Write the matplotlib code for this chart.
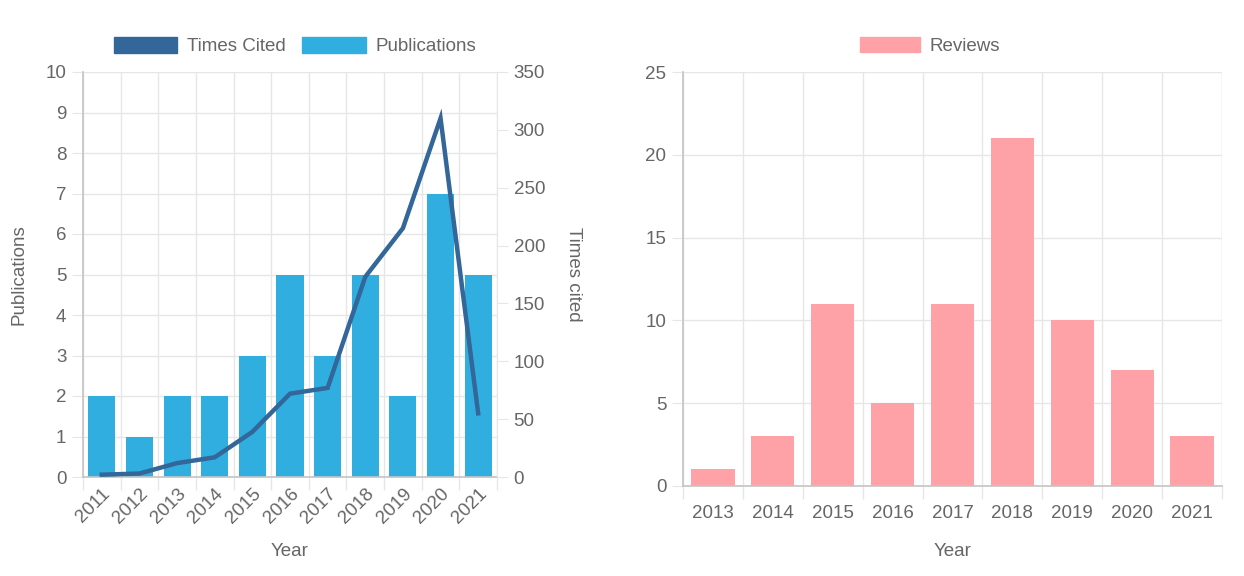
import matplotlib
matplotlib.use("Agg")
import matplotlib.pyplot as plt
from matplotlib.patches import Patch
import numpy as np

plt.rcParams['font.family'] = ['Liberation Sans', 'DejaVu Sans']

# ---- data ----
years_left = ['2011', '2012', '2013', '2014', '2015', '2016', '2017', '2018', '2019', '2020', '2021']
publications = [2, 1, 2, 2, 3, 5, 3, 5, 2, 7, 5]
times_cited = [2, 3, 12, 17, 39, 72, 77, 173, 215, 310, 55]

years_right = ['2013', '2014', '2015', '2016', '2017', '2018', '2019', '2020', '2021']
reviews = [1, 3, 11, 5, 11, 21, 10, 7, 3]

# ---- style ----
TEXT = '#666666'
GRID = '#e6e6e6'
AXIS = '#c4c4c4'
BLUE = '#30aee0'
LINE = '#336699'
PINK = '#ffa2a8'
FS = 13.5

W, H = 1244, 576
fig = plt.figure(figsize=(W / 100, H / 100), dpi=100)


def frac(l, r, t, b):
    return [l / W, 1 - b / H, (r - l) / W, (b - t) / H]


def style_axis(ax, n):
    ax.set_xlim(-0.5, n - 0.5)
    ax.set_xticks(np.arange(n))
    ax.set_xticks(np.arange(n + 1) - 0.5, minor=True)
    ax.tick_params(axis='x', which='major', length=0, colors=TEXT, labelsize=FS, pad=6)
    ax.tick_params(axis='x', which='minor', length=9, color=GRID, width=1)
    ax.tick_params(axis='y', length=8, color=GRID, colors=TEXT, labelsize=FS, pad=4)
    ax.grid(True, which='minor', axis='x', color=GRID, lw=1)
    ax.grid(True, which='major', axis='y', color=GRID, lw=1)
    ax.set_axisbelow(True)
    for s in ['top', 'right']:
        ax.spines[s].set_visible(False)
    for s in ['left', 'bottom']:
        ax.spines[s].set_color(AXIS)
        ax.spines[s].set_linewidth(1.2)


# ---- left chart ----
ax = fig.add_axes(frac(83, 497, 72, 477))
x = np.arange(len(years_left))
ax.bar(x, publications, width=0.72, color=BLUE, zorder=2)
style_axis(ax, len(years_left))
ax.set_ylim(0, 10)
ax.set_yticks(range(0, 11))
ax.set_xticklabels(years_left, rotation=45, ha='right', rotation_mode='anchor')
ax.set_ylabel('Publications', color=TEXT, fontsize=FS)
ax.yaxis.set_label_coords(-0.133, 0.5)
ax.set_xlabel('Year', color=TEXT, fontsize=FS)
ax.xaxis.set_label_coords(0.5, -0.163)

ax2 = ax.twinx()
ax2.plot(x, times_cited, color=LINE, lw=3.2, solid_joinstyle='miter', zorder=3)
ax2.set_ylim(0, 350)
ax2.set_yticks(range(0, 351, 50))
ax2.tick_params(axis='y', length=8, color=GRID, colors=TEXT, labelsize=FS, pad=4)
for s in ['top', 'left', 'bottom']:
    ax2.spines[s].set_visible(False)
ax2.spines['right'].set_color(GRID)
ax2.set_ylabel('Times cited', color=TEXT, fontsize=FS, rotation=270)
ax2.yaxis.set_label_coords(1.205, 0.5)

handles = [Patch(facecolor=LINE, edgecolor=LINE), Patch(facecolor=BLUE, edgecolor=BLUE)]
fig.legend(handles, ['Times Cited', 'Publications'], loc='center',
           bbox_to_anchor=(295 / W, 1 - 46 / H), ncol=2, frameon=False,
           fontsize=FS, labelcolor=TEXT, handlelength=3.4, handleheight=1.0,
           handletextpad=0.5, columnspacing=0.9)

# ---- right chart ----
axr = fig.add_axes(frac(683, 1222, 72, 486))
xr = np.arange(len(years_right))
axr.bar(xr, reviews, width=0.72, color=PINK, zorder=2)
style_axis(axr, len(years_right))
axr.set_ylim(0, 25)
axr.set_yticks(range(0, 26, 5))
axr.set_xticklabels(years_right)
axr.tick_params(axis='x', which='major', pad=14)
axr.set_xlabel('Year', color=TEXT, fontsize=FS)
axr.xaxis.set_label_coords(0.5, -0.138)
axr.axvline(len(years_right) - 0.5, color=GRID, lw=1, zorder=0)

fig.legend([Patch(facecolor=PINK, edgecolor=PINK)], ['Reviews'], loc='center',
           bbox_to_anchor=(930 / W, 1 - 46 / H), frameon=False,
           fontsize=FS, labelcolor=TEXT, handlelength=3.2, handleheight=0.9,
           handletextpad=0.5)

fig.savefig('out.png', dpi=100, facecolor='white')
